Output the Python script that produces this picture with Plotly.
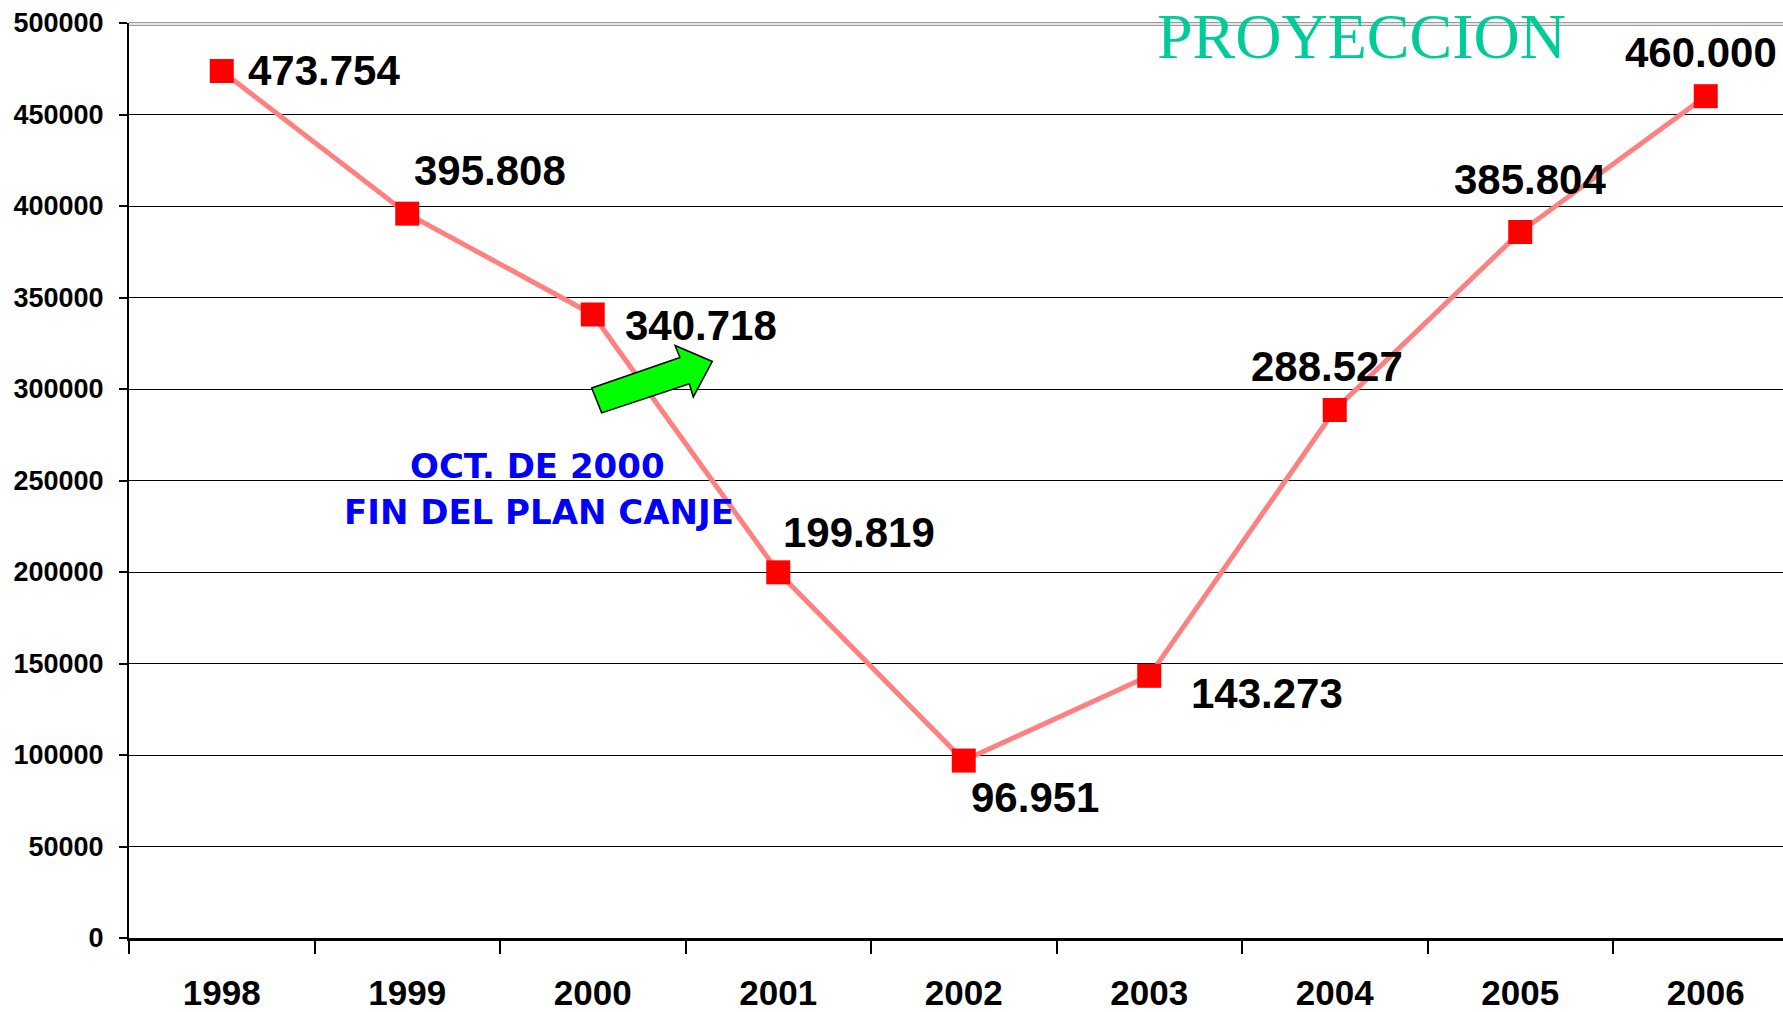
import plotly.graph_objects as go

# ---- data ----
years = ["1998", "1999", "2000", "2001", "2002", "2003", "2004", "2005", "2006"]
values = [473754, 395808, 340718, 199819, 96951, 143273, 288527, 385804, 460000]
y_ticks = [0, 50000, 100000, 150000, 200000, 250000, 300000, 350000, 400000, 450000, 500000]

# label offsets in pixels (style only)
label_dx = [102, 83, 108, 81, 71, 118, -8, 10, -5]
label_dy = [1, 43, -11, 40, -37, -18, 44, 52, 44]

W, H = 1783, 1012
ML, MR, MT, MB = 129, 0, 23, 69
PW, PH = W - ML - MR, H - MT - MB
CAT_W = 185.5

def px(x, y):
    return (x - ML) / PW, (H - MB - y) / PH

SANS = "Liberation Sans, Arial, sans-serif"

fig = go.Figure()
fig.add_trace(go.Scatter(
    x=years, y=values, mode="lines+markers",
    line=dict(color="#FF8080", width=5),
    marker=dict(symbol="square", size=24, color="#FF0000"),
    hoverinfo="skip", showlegend=False,
))

for i, (v, dx, dy) in enumerate(zip(values, label_dx, label_dy)):
    fig.add_annotation(
        x=i, y=v, xref="x", yref="y",
        text=f"{v:,}".replace(",", "."),
        showarrow=False, xshift=dx, yshift=dy,
        font=dict(family=SANS, size=42, color="black", weight="bold"),
    )

# gray double line at the top of the plot
fig.add_shape(type="line", xref="paper", yref="y", x0=0, x1=1, y0=500000, y1=500000,
              line=dict(color="white", width=5), layer="above")
for py in (22.7, 25.3):
    _, yy = px(0, py)
    fig.add_shape(type="line", xref="paper", yref="paper", x0=0, x1=1, y0=yy, y1=yy,
                  line=dict(color="#9a9a9a", width=1.2), layer="above")

# green block arrow
arrow_px = [(601.7, 415), (591.7, 390), (680, 359.3), (675, 347.3),
            (712.3, 363.3), (693.3, 399), (689.3, 385.7)]
pts = [px(a, b) for a, b in arrow_px]
path = "M " + " L ".join(f"{a:.5f},{b:.5f}" for a, b in pts) + " Z"
fig.add_shape(type="path", xref="paper", yref="paper", path=path,
              fillcolor="#00FF00", line=dict(color="black", width=1.5), layer="above")

# blue text
for txt, cx, cy in (("OCT. DE 2000", 537, 468), ("FIN DEL PLAN CANJE", 539, 515)):
    ax, ay = px(cx, cy)
    fig.add_annotation(x=ax, y=ay, xref="paper", yref="paper", text=txt, showarrow=False,
                       xanchor="center", yanchor="middle",
                       font=dict(family="DejaVu Sans, Verdana, sans-serif", size=34,
                                 color="#0000FF", weight="bold"))

# PROYECCION
ax, ay = px(1361, 37)
fig.add_annotation(x=ax, y=ay, xref="paper", yref="paper", text="PROYECCION", showarrow=False,
                   xanchor="center", yanchor="middle",
                   font=dict(family="Liberation Serif, Times New Roman, serif", size=64,
                             color="#00CC99"))

fig.update_layout(
    width=W, height=H,
    margin=dict(l=ML, r=MR, t=MT, b=MB, pad=0),
    paper_bgcolor="white", plot_bgcolor="white",
    showlegend=False,
)
fig.update_xaxes(
    type="category", range=[-0.5, -0.5 + PW / CAT_W],
    showline=True, linecolor="black", linewidth=3,
    ticks="outside", tickson="boundaries", ticklen=13, tickwidth=1.5, tickcolor="black",
    showgrid=False, zeroline=False,
    tickfont=dict(family=SANS, size=35, color="black", weight="bold"),
    ticklabelstandoff=22,
)
fig.update_yaxes(
    range=[0, 500000], tickvals=y_ticks, ticktext=[str(t) for t in y_ticks],
    showline=True, linecolor="black", linewidth=2,
    ticks="outside", ticklen=8, tickwidth=1.5, tickcolor="black",
    showgrid=True, gridcolor="black", gridwidth=1.3, zeroline=False,
    tickfont=dict(family=SANS, size=27, color="black", weight="bold"),
    ticklabelstandoff=10,
)

fig.write_html("out.html", config={"displayModeBar": False},
               post_script="document.body.style.margin='0px';document.body.style.overflow='hidden';")
